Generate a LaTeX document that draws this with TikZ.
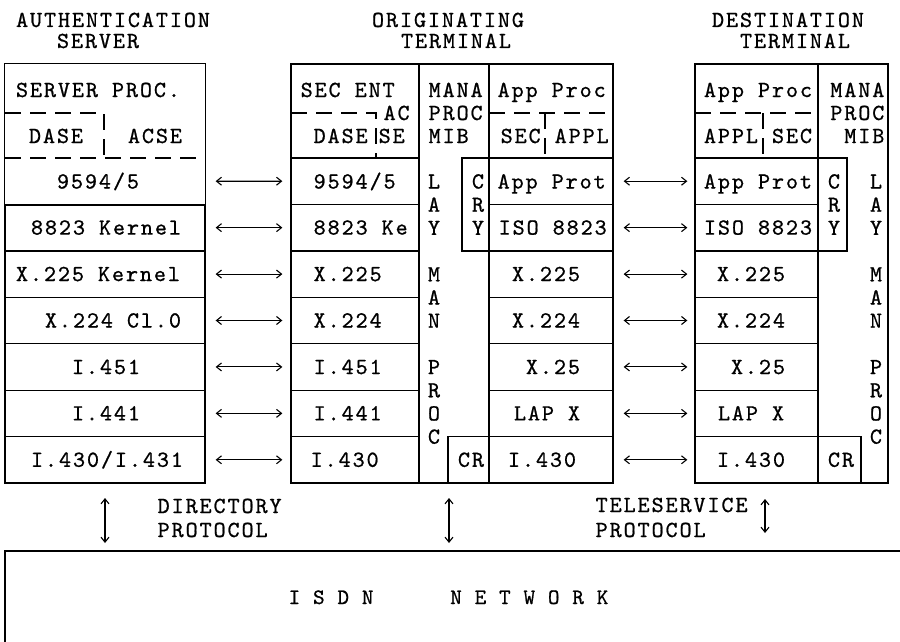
\documentclass[tikz,border=0pt]{standalone}
\usepackage{fontspec}
\newfontfamily\cour{lmmono10-regular}[Extension=.otf, FakeBold=0.8, LetterSpace=8.3]
\newfontfamily\courn{lmmono10-regular}[Extension=.otf, FakeBold=0.8, LetterSpace=6]
\usetikzlibrary{arrows.meta}
\begin{document}
\begin{tikzpicture}[x=1pt,y=-1pt,
  line width=1.3pt,
  every node/.style={font=\cour\fontsize{23}{23}\selectfont},
  box/.style={draw, inner sep=0pt, minimum height=46.43pt, anchor=center},
  hbox/.style={draw, inner sep=0pt, anchor=center},
  t/.style={inner sep=0pt, anchor=base},
  tw/.style={inner sep=0pt, anchor=base west},
  te/.style={inner sep=0pt, anchor=base east},
  dsh/.style={dash pattern=on 16pt off 9pt},
  tip/.tip={Straight Barb[length=5pt,width=8pt]},
  link/.style={tip-tip, line width=1.1pt},
]
\useasboundingbox (0,0) rectangle (900,642);

% ---------- titles ----------
\node[t] (tA) at (113,27) {AUTHENTICATION};
\node[t] (tB) at (98,48) {SERVER};
\node[t] (tC) at (448,27) {ORIGINATING};
\node[t] (tD) at (456,48) {TERMINAL};
\node[t] (tE) at (788,27) {DESTINATION};
\node[t] (tF) at (795,48) {TERMINAL};

% ---------- headers and columns ----------
\node[hbox, draw=none, minimum width=200pt, minimum height=94pt] (sh) at (105,111) {};
\draw (sh.south west) -- (sh.north west) -- (sh.north east) -- (sh.south east);
\draw[dsh] (5,113) -- (104,113) -- (104,158);
\draw[dsh] (5,158) -- (205,158);

\node[hbox, minimum width=128pt, minimum height=94pt] (oh) at (355,111) {};
\draw[dsh] (291,113) -- (376,113) -- (376,158);
\node[hbox, minimum width=70pt, minimum height=419pt] (om) at (454,273.5) {};
\node[hbox, minimum width=124pt, minimum height=94pt] (ph) at (551,111) {};
\draw[dsh] (489,113) -- (613,113);
\draw[dsh] (545,113) -- (545,158);
\node[hbox, minimum width=27pt, minimum height=92.9pt] (oc) at (475.5,204.45) {};
\node[hbox, minimum width=41pt, minimum height=46.43pt] (ocr) at (468.5,459.8) {};

\node[hbox, minimum width=123pt, minimum height=94pt] (dh) at (756.5,111) {};
\draw[dsh] (695,113) -- (818,113);
\draw[dsh] (763,113) -- (763,158);
\node[hbox, minimum width=70pt, minimum height=419pt] (dm) at (853,273.5) {};
\node[hbox, minimum width=29pt, minimum height=92.9pt] (dc) at (832.5,204.45) {};
\node[hbox, minimum width=43pt, minimum height=46.43pt] (dcr) at (839.5,459.8) {};

% ---------- rows ----------
\node[box, draw=none, minimum width=200pt] (s1) at (105,181.2) {};
\draw (s1.north west) -- (s1.south west) -- (s1.south east) -- (s1.north east);
\foreach \k in {2,...,7} {
  \pgfmathsetmacro\yc{158+(\k-0.5)*46.43}
  \node[box, minimum width=200pt] (s\k) at (105,\yc) {};
}
\foreach \k in {1,...,7} {
  \pgfmathsetmacro\yc{158+(\k-0.5)*46.43}
  \node[box, minimum width=128pt] (o\k) at (355,\yc) {};
  \node[box, minimum width=124pt] (p\k) at (551,\yc) {};
  \node[box, minimum width=123pt] (d\k) at (756.5,\yc) {};
  \draw[link, shorten <=10pt, shorten >=8pt] (s\k) -- (o\k);
  \draw[link, shorten <=10pt, shorten >=7pt] (p\k) -- (d\k);
}

% ---------- header texts ----------
\node[t] (x1) at (98,97) {SERVER PROC.};
\node[t] (x2) at (56,143) {DASE};
\node[t] (x3) at (155,143) {ACSE};

\node[tw] (x4) at (300,97) {SEC ENT};
\node[tw] (x5) at (383,120) {AC};
\node[tw] (x6) at (313,143) {DASE};
\node[tw] (x7) at (378,143) {SE};
\node[tw] (x8) at (428,97) {MANA};
\node[tw] (x9) at (428,120) {PROC};
\node[tw] (x10) at (428,143) {MIB};
\node[tw] (x11) at (497,97) {App Proc};
\node[tw] (x12) at (500,143) {SEC APPL};

\node[t] (x13) at (758,97) {App Proc};
\node[t] (x14) at (758,143) {APPL SEC};
\node[te] (x15) at (885,97) {MANA};
\node[te] (x16) at (885,120) {PROC};
\node[te] (x17) at (885,143) {MIB};

% ---------- row texts ----------
\node[t] (r11) at (98,188.5) {9594/5};
\node[t] (r12) at (106,234.6) {8823 Kernel};
\node[t] (r13) at (98,281.1) {X.225 Kernel};
\node[t] (r14) at (113,327.5) {X.224 Cl.0};
\node[t] (r15) at (106,374) {I.451};
\node[t] (r16) at (106,420.4) {I.441};
\node[t] (r17) at (107,466.8) {I.430/I.431};

\node[tw] (r21) at (313,188.5) {9594/5};
\node[tw] (r22) at (313,234.6) {8823 Ke};
\node[tw] (r23) at (313,281.1) {X.225};
\node[tw] (r24) at (313,327.5) {X.224};
\node[tw] (r25) at (313,374) {I.451};
\node[tw] (r26) at (313,420.4) {I.441};
\node[tw] (r27) at (310,466.8) {I.430};

\node[tw] (r31) at (497,188.5) {App Prot};
\node[tw] (r32) at (498,234.6) {ISO 8823};
\node[t] (r33) at (546,281.1) {X.225};
\node[t] (r34) at (546,327.5) {X.224};
\node[t] (r35) at (553,374) {X.25};
\node[t] (r36) at (547,420.4) {LAP X};
\node[t] (r37) at (542,466.8) {I.430};
\node[t] (r38) at (471,466.8) {CR};

\node[t] (r41) at (758,188.5) {App Prot};
\node[t] (r42) at (758,234.6) {ISO 8823};
\node[t] (r43) at (751,281.1) {X.225};
\node[t] (r44) at (751,327.5) {X.224};
\node[t] (r45) at (758,374) {X.25};
\node[t] (r46) at (751,420.4) {LAP X};
\node[t] (r47) at (751,466.8) {I.430};
\node[t] (r48) at (841,466.8) {CR};

% ---------- vertical letters ----------
\foreach \l/\k [count=\i] in {C/0,R/1,Y/2} {
  \node[t] (oc\i) at (478,188.5+\k*23.2) {\l};
  \node[t] (dc\i) at (834,188.5+\k*23.2) {\l};
}
\foreach \l/\k [count=\i] in {L/0,A/1,Y/2,M/4,A/5,N/6,P/8,R/9,O/10,C/11} {
  \node[t] (ol\i) at (434,188.5+\k*23.2) {\l};
  \node[t] (dl\i) at (876,188.5+\k*23.2) {\l};
}

% ---------- bottom ----------
\coordinate (va1) at (105,498);
\coordinate (vb1) at (105,543);
\coordinate (va2) at (449,498);
\coordinate (vb2) at (449,543);
\coordinate (va3) at (765,499);
\coordinate (vb3) at (765,533);
\draw[link] (va1) -- (vb1);
\draw[link] (va2) -- (vb2);
\draw[link] (va3) -- (vb3);

\node[tw] (b1) at (157,513) {DIRECTORY};
\node[tw] (b2) at (157,537) {PROTOCOL};
\node[tw] (b3) at (595,512) {TELESERVICE};
\node[tw] (b4) at (595,537) {PROTOCOL};

\coordinate (nw) at (5,551);
\draw (5,642) -- (nw) -- (900,551);
\node[tw, font=\courn\fontsize{22}{22}\selectfont] (n1) at (288,604) {I S D N};
\node[te, font=\courn\fontsize{22}{22}\selectfont] (n2) at (609,604) {N E T W O R K};
\end{tikzpicture}
\end{document}
